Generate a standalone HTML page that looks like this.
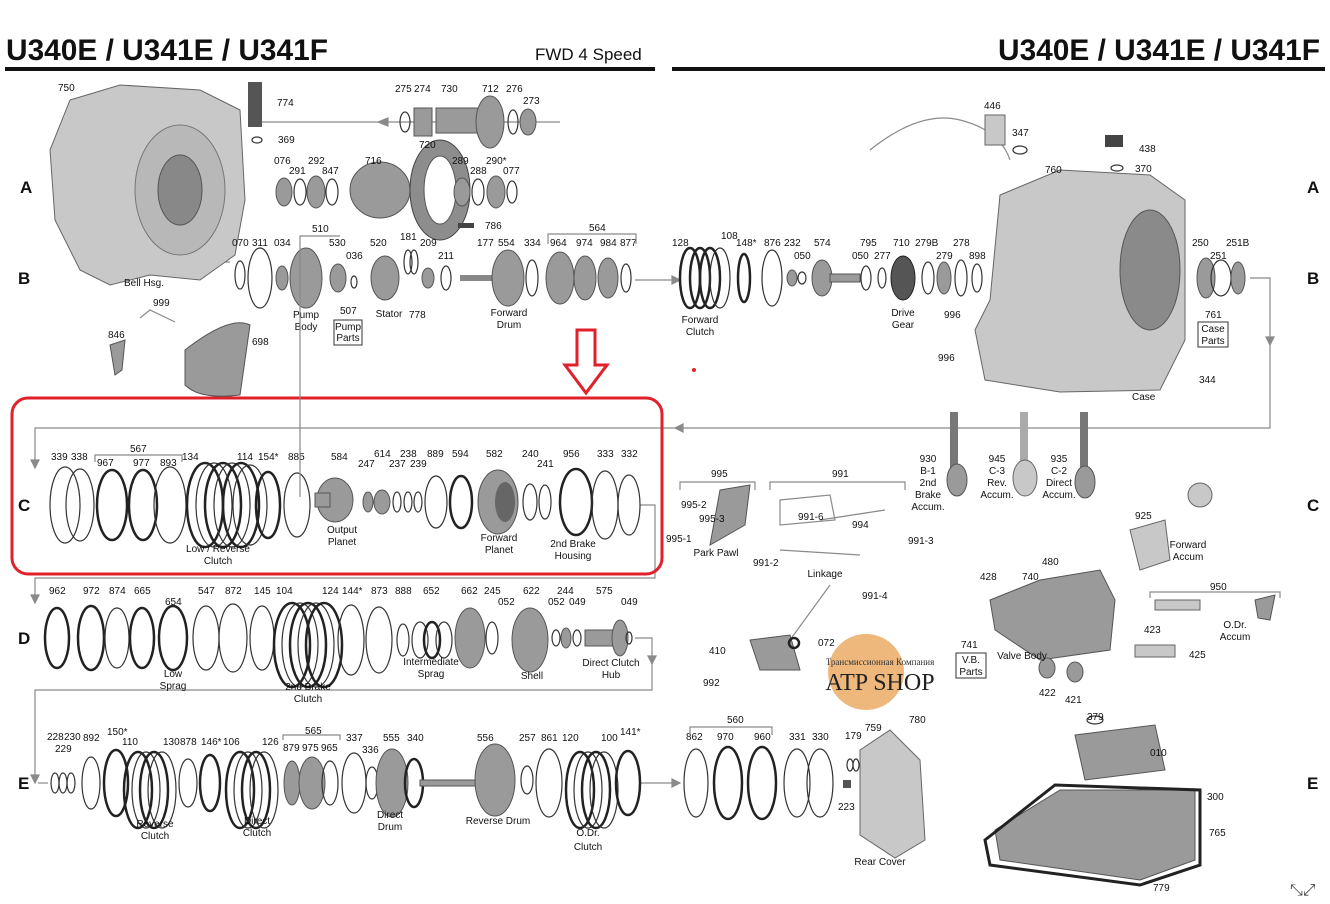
<!DOCTYPE html>
<html><head><meta charset="utf-8">
<style>
html,body{margin:0;padding:0;background:#fff;}
svg{display:block;font-family:"Liberation Sans",Arial,sans-serif;}
.t{font-size:10px;fill:#111;}
.l{font-size:10px;fill:#111;text-anchor:middle;}
.r{fill:none;stroke:#333;stroke-width:1.2;}
.k{fill:none;stroke:#222;stroke-width:2.5;}
.g{fill:#9a9a9a;stroke:#555;stroke-width:1;}
.lg{fill:#c8c8c8;stroke:#666;stroke-width:1;}
.f{fill:none;stroke:#8a8a8a;stroke-width:1.2;}
.row{font-size:17px;font-weight:bold;fill:#111;}
</style></head><body>
<svg width="1330" height="904" viewBox="0 0 1330 904" xmlns="http://www.w3.org/2000/svg">
<rect width="1330" height="904" fill="#fff"/>
<text x="6" y="60" font-size="30" font-weight="bold" fill="#111" textLength="322" lengthAdjust="spacingAndGlyphs">U340E / U341E / U341F</text>
<text x="535" y="60" font-size="17" fill="#111">FWD 4 Speed</text>
<rect x="5" y="67" width="650" height="4" fill="#111"/>
<text x="998" y="60" font-size="30" font-weight="bold" fill="#111" textLength="322" lengthAdjust="spacingAndGlyphs">U340E / U341E / U341F</text>
<rect x="672" y="67" width="653" height="4" fill="#111"/>
<text class="row" x="20" y="193">A</text><text class="row" x="18" y="284">B</text><text class="row" x="18" y="511">C</text><text class="row" x="18" y="644">D</text><text class="row" x="18" y="789">E</text>
<text class="row" x="1307" y="193">A</text><text class="row" x="1307" y="284">B</text><text class="row" x="1307" y="511">C</text><text class="row" x="1307" y="789">E</text>

<g class="f">
<polyline points="250,122 560,122"/><polygon points="378,122 388,118 388,126" fill="#8a8a8a"/>
<polyline points="183,250 183,262 230,262"/>
<polyline points="635,280 680,280"/><polygon points="680,280 672,276 672,284" fill="#8a8a8a"/>
<polyline points="1250,278 1270,278 1270,428 35,428 35,465"/><polygon points="35,468 31,460 39,460" fill="#8a8a8a"/>
<polygon points="1270,345 1266,337 1274,337" fill="#8a8a8a"/><polygon points="675,428 683,424 683,432" fill="#8a8a8a"/>
<polyline points="640,505 655,505 655,578 35,578 35,600"/><polygon points="35,603 31,595 39,595" fill="#8a8a8a"/>
<polyline points="635,638 652,638 652,690 35,690 35,780"/><polygon points="652,664 648,656 656,656" fill="#8a8a8a"/><polygon points="35,783 31,775 39,775" fill="#8a8a8a"/>
<polyline points="640,783 680,783"/><polygon points="680,783 672,779 672,787" fill="#8a8a8a"/>
<polyline points="38,783 48,783"/>
</g>

<rect x="12" y="398" width="650" height="176" rx="16" fill="none" stroke="#e0202a" stroke-width="3"/>
<polygon points="577,330 595,330 595,365 607,365 586,393 565,365 577,365" fill="none" stroke="#e0202a" stroke-width="3"/>
<circle cx="694" cy="370" r="2" fill="#e0202a"/>

<path class="lg" d="M70,100 L120,85 L200,90 L240,110 L245,200 L235,255 L200,280 L150,275 L110,285 L80,270 L55,220 L50,150 Z"/>
<ellipse cx="180" cy="190" rx="45" ry="65" fill="#b8b8b8" stroke="#777"/>
<ellipse cx="180" cy="190" rx="22" ry="35" fill="#888" stroke="#555"/>
<rect x="248" y="82" width="14" height="45" fill="#555"/>
<ellipse class="r" cx="257" cy="140" rx="5" ry="3"/>
<ellipse class="r" cx="405" cy="122" rx="5" ry="10"/><rect x="414" y="108" width="18" height="28" class="g"/>
<rect x="436" y="108" width="42" height="25" class="g"/><ellipse class="g" cx="490" cy="122" rx="14" ry="26"/>
<ellipse class="r" cx="513" cy="122" rx="5" ry="12"/><ellipse class="g" cx="528" cy="122" rx="8" ry="13"/>
<ellipse class="g" cx="284" cy="192" rx="8" ry="14"/><ellipse class="r" cx="300" cy="192" rx="6" ry="13"/><ellipse class="g" cx="316" cy="192" rx="9" ry="16"/><ellipse class="r" cx="332" cy="192" rx="6" ry="13"/>
<ellipse class="g" cx="380" cy="190" rx="30" ry="28"/><ellipse cx="440" cy="190" rx="30" ry="50" fill="#8d8d8d" stroke="#444"/><ellipse cx="440" cy="190" rx="16" ry="34" fill="#fff" stroke="#555"/>
<ellipse class="g" cx="462" cy="192" rx="8" ry="14"/><ellipse class="r" cx="478" cy="192" rx="6" ry="13"/><ellipse class="g" cx="496" cy="192" rx="9" ry="16"/><ellipse class="r" cx="512" cy="192" rx="5" ry="11"/>
<rect x="458" y="223" width="16" height="5" fill="#444"/>
<ellipse class="r" cx="240" cy="275" rx="5" ry="14"/><ellipse class="r" cx="260" cy="278" rx="12" ry="30"/><ellipse class="g" cx="282" cy="278" rx="6" ry="12"/>
<ellipse class="g" cx="306" cy="278" rx="16" ry="30"/><ellipse class="g" cx="338" cy="278" rx="8" ry="14"/><ellipse class="r" cx="354" cy="282" rx="3" ry="6"/>
<ellipse class="g" cx="385" cy="278" rx="14" ry="22"/><ellipse class="r" cx="408" cy="262" rx="4" ry="12"/><ellipse class="r" cx="414" cy="262" rx="4" ry="12"/>
<ellipse class="g" cx="428" cy="278" rx="6" ry="10"/><ellipse class="r" cx="446" cy="278" rx="5" ry="12"/>
<rect x="460" y="275" width="40" height="6" fill="#888"/><ellipse class="g" cx="508" cy="278" rx="16" ry="28"/>
<ellipse class="r" cx="532" cy="278" rx="6" ry="18"/><ellipse class="g" cx="560" cy="278" rx="14" ry="26"/><ellipse class="g" cx="585" cy="278" rx="11" ry="22"/><ellipse class="g" cx="608" cy="278" rx="10" ry="20"/><ellipse class="r" cx="626" cy="278" rx="5" ry="14"/>
<path class="g" d="M185,350 Q230,315 250,325 L240,395 Q200,400 185,385 Z"/>
<path class="g" d="M110,345 L125,340 L122,370 L115,375 Z"/>
<path class="f" d="M140,318 L150,310 L175,322"/>
<ellipse class="k" cx="690" cy="278" rx="10" ry="30"/><ellipse class="k" cx="700" cy="278" rx="10" ry="30"/><ellipse class="k" cx="710" cy="278" rx="10" ry="30"/><ellipse class="r" cx="720" cy="278" rx="10" ry="30"/>
<ellipse class="k" cx="744" cy="278" rx="6" ry="24"/><ellipse class="r" cx="772" cy="278" rx="10" ry="28"/><ellipse class="g" cx="792" cy="278" rx="5" ry="8"/><ellipse class="r" cx="802" cy="278" rx="4" ry="6"/>
<ellipse class="g" cx="822" cy="278" rx="10" ry="18"/><rect x="830" y="274" width="30" height="8" class="g"/>
<ellipse class="r" cx="866" cy="278" rx="5" ry="12"/><ellipse class="r" cx="882" cy="278" rx="4" ry="10"/><ellipse cx="903" cy="278" rx="12" ry="22" fill="#555" stroke="#222"/>
<ellipse class="r" cx="928" cy="278" rx="6" ry="16"/><ellipse class="g" cx="944" cy="278" rx="7" ry="16"/><ellipse class="r" cx="961" cy="278" rx="6" ry="18"/><ellipse class="r" cx="977" cy="278" rx="5" ry="14"/>
<path class="lg" d="M1000,195 L1060,170 L1150,175 L1185,200 L1185,340 L1160,390 L1060,392 L985,380 L975,330 L990,300 Z"/>
<ellipse cx="1150" cy="270" rx="30" ry="60" fill="#8a8a8a" stroke="#555"/>
<path class="f" d="M870,150 Q920,110 960,120 Q1000,130 1010,160" stroke="#333"/>
<rect x="985" y="115" width="20" height="30" class="lg"/>
<ellipse class="r" cx="1020" cy="150" rx="7" ry="4"/>
<rect x="1105" y="135" width="18" height="12" fill="#444"/><ellipse class="r" cx="1117" cy="168" rx="6" ry="3"/>
<ellipse class="g" cx="1206" cy="278" rx="9" ry="20"/><ellipse class="r" cx="1221" cy="278" rx="10" ry="18"/><ellipse class="g" cx="1238" cy="278" rx="7" ry="16"/>

<ellipse class="r" cx="65" cy="505" rx="15" ry="38"/><ellipse class="r" cx="80" cy="505" rx="14" ry="36"/>
<ellipse class="k" cx="112" cy="505" rx="15" ry="35" stroke="#666" stroke-width="5"/><ellipse class="k" cx="143" cy="505" rx="14" ry="35" stroke="#777" stroke-width="4"/>
<ellipse class="r" cx="170" cy="505" rx="16" ry="38"/>
<ellipse class="k" cx="205" cy="505" rx="18" ry="42"/><ellipse class="r" cx="214" cy="505" rx="18" ry="42"/><ellipse class="k" cx="223" cy="505" rx="18" ry="42"/><ellipse class="r" cx="232" cy="505" rx="18" ry="42"/><ellipse class="k" cx="241" cy="505" rx="18" ry="42"/><ellipse class="r" cx="250" cy="505" rx="17" ry="40"/>
<ellipse class="k" cx="268" cy="505" rx="12" ry="33" stroke-width="2"/><ellipse class="r" cx="297" cy="505" rx="13" ry="32"/>
<ellipse class="g" cx="335" cy="500" rx="18" ry="22"/><rect x="315" y="493" width="15" height="14" class="g"/>
<ellipse class="g" cx="368" cy="502" rx="5" ry="10"/><ellipse class="g" cx="382" cy="502" rx="8" ry="12"/><ellipse class="r" cx="397" cy="502" rx="4" ry="10"/><ellipse class="r" cx="408" cy="502" rx="4" ry="10"/><ellipse class="r" cx="418" cy="502" rx="4" ry="10"/>
<ellipse class="r" cx="436" cy="502" rx="11" ry="26"/><ellipse class="k" cx="461" cy="502" rx="11" ry="26" stroke="#444" stroke-width="4"/>
<ellipse class="g" cx="498" cy="502" rx="20" ry="32"/><ellipse cx="505" cy="502" rx="10" ry="20" fill="#666"/>
<ellipse class="r" cx="530" cy="502" rx="7" ry="18"/><ellipse class="r" cx="545" cy="502" rx="6" ry="17"/>
<ellipse class="k" cx="576" cy="502" rx="16" ry="33" stroke="#555" stroke-width="5"/>
<ellipse class="r" cx="605" cy="505" rx="13" ry="34"/><ellipse class="r" cx="629" cy="505" rx="11" ry="30"/>

<ellipse class="k" cx="57" cy="638" rx="12" ry="30" stroke="#555" stroke-width="5"/><ellipse class="k" cx="91" cy="638" rx="13" ry="32" stroke="#777" stroke-width="4"/><ellipse class="r" cx="117" cy="638" rx="12" ry="30"/><ellipse class="k" cx="142" cy="638" rx="12" ry="30" stroke="#444" stroke-width="4"/>
<ellipse class="k" cx="173" cy="638" rx="14" ry="32" stroke="#666" stroke-width="4"/><ellipse class="r" cx="206" cy="638" rx="13" ry="32"/><ellipse class="r" cx="233" cy="638" rx="14" ry="34"/><ellipse class="r" cx="262" cy="638" rx="12" ry="32"/>
<ellipse class="k" cx="292" cy="645" rx="18" ry="42"/><ellipse class="r" cx="300" cy="645" rx="18" ry="42"/><ellipse class="k" cx="308" cy="645" rx="18" ry="42"/><ellipse class="r" cx="316" cy="645" rx="18" ry="42"/><ellipse class="k" cx="324" cy="645" rx="18" ry="42"/>
<ellipse class="r" cx="351" cy="640" rx="13" ry="35"/><ellipse class="r" cx="379" cy="640" rx="13" ry="33"/><ellipse class="r" cx="403" cy="640" rx="6" ry="16"/>
<ellipse class="r" cx="420" cy="640" rx="8" ry="18"/><ellipse class="k" cx="432" cy="640" rx="8" ry="18" stroke-width="2"/><ellipse class="r" cx="444" cy="640" rx="8" ry="18"/>
<ellipse class="g" cx="470" cy="638" rx="15" ry="30"/><ellipse class="r" cx="492" cy="638" rx="6" ry="16"/><ellipse class="g" cx="530" cy="640" rx="18" ry="32"/>
<ellipse class="r" cx="556" cy="638" rx="4" ry="8"/><ellipse class="g" cx="566" cy="638" rx="5" ry="10"/><ellipse class="r" cx="577" cy="638" rx="4" ry="8"/>
<rect x="585" y="630" width="35" height="16" class="g"/><ellipse class="g" cx="620" cy="638" rx="8" ry="18"/><ellipse class="r" cx="629" cy="638" rx="3" ry="6"/>

<ellipse class="r" cx="55" cy="783" rx="4" ry="10"/><ellipse class="r" cx="63" cy="783" rx="4" ry="10"/><ellipse class="r" cx="71" cy="783" rx="4" ry="10"/>
<ellipse class="r" cx="91" cy="783" rx="9" ry="26"/><ellipse class="k" cx="116" cy="783" rx="12" ry="33" stroke="#555" stroke-width="3"/>
<ellipse class="k" cx="138" cy="790" rx="14" ry="38"/><ellipse class="r" cx="146" cy="790" rx="14" ry="38"/><ellipse class="k" cx="154" cy="790" rx="14" ry="38"/><ellipse class="r" cx="162" cy="790" rx="14" ry="38"/>
<ellipse class="r" cx="188" cy="783" rx="9" ry="24"/><ellipse class="k" cx="210" cy="783" rx="10" ry="28" stroke="#555" stroke-width="3"/>
<ellipse class="k" cx="240" cy="790" rx="14" ry="38"/><ellipse class="r" cx="248" cy="790" rx="14" ry="38"/><ellipse class="k" cx="256" cy="790" rx="14" ry="38"/><ellipse class="r" cx="264" cy="790" rx="14" ry="38"/>
<ellipse class="g" cx="292" cy="783" rx="8" ry="22"/><ellipse class="g" cx="312" cy="783" rx="13" ry="26"/><ellipse class="r" cx="330" cy="783" rx="8" ry="22"/>
<ellipse class="r" cx="354" cy="783" rx="12" ry="30"/><ellipse class="r" cx="372" cy="783" rx="6" ry="16"/><ellipse class="g" cx="392" cy="783" rx="16" ry="34"/><ellipse class="k" cx="414" cy="783" rx="9" ry="24" stroke="#444"/>
<rect x="420" y="780" width="60" height="6" class="g"/><ellipse class="g" cx="495" cy="780" rx="20" ry="36"/>
<ellipse class="r" cx="527" cy="780" rx="6" ry="14"/><ellipse class="r" cx="549" cy="783" rx="13" ry="34"/>
<ellipse class="k" cx="580" cy="790" rx="14" ry="38"/><ellipse class="r" cx="588" cy="790" rx="14" ry="38"/><ellipse class="k" cx="596" cy="790" rx="14" ry="38"/><ellipse class="r" cx="604" cy="790" rx="14" ry="38"/>
<ellipse class="k" cx="628" cy="783" rx="12" ry="32" stroke="#555" stroke-width="3"/>
<ellipse class="r" cx="696" cy="783" rx="12" ry="34"/><ellipse class="k" cx="728" cy="783" rx="14" ry="36" stroke="#444" stroke-width="3"/><ellipse class="k" cx="762" cy="783" rx="14" ry="36" stroke="#444" stroke-width="3"/>
<ellipse class="r" cx="797" cy="783" rx="13" ry="34"/><ellipse class="r" cx="820" cy="783" rx="13" ry="34"/>
<ellipse class="r" cx="850" cy="765" rx="3" ry="6"/><ellipse class="r" cx="856" cy="765" rx="3" ry="6"/><rect x="843" y="780" width="8" height="8" fill="#555"/>
<path class="lg" d="M860,750 L890,730 L920,760 L925,840 L895,858 L860,835 Z"/>

<path class="g" d="M720,490 L750,485 L745,525 L710,545 Z"/>
<path class="f" d="M780,500 L830,495 L835,520 L780,525 Z" stroke="#555"/>
<path class="f" d="M820,520 L885,510" stroke="#444" stroke-width="3"/>
<path class="f" d="M780,550 L860,555" stroke="#555" stroke-width="2"/>
<path class="f" d="M830,585 L790,640" stroke="#444" stroke-width="4"/>
<path class="g" d="M750,640 L790,635 L800,670 L760,670 Z"/>
<ellipse class="k" cx="794" cy="643" rx="5" ry="5" stroke-width="2"/>
<rect x="950" y="412" width="8" height="60" fill="#777"/><ellipse class="g" cx="957" cy="480" rx="10" ry="16"/>
<rect x="1020" y="412" width="8" height="50" fill="#aaa"/><ellipse class="lg" cx="1025" cy="478" rx="12" ry="18"/>
<rect x="1080" y="412" width="8" height="60" fill="#777"/><ellipse class="g" cx="1085" cy="482" rx="10" ry="16"/>
<path class="g" d="M990,600 L1040,580 L1100,570 L1115,600 L1110,650 L1040,660 L995,630 Z"/>
<path class="lg" d="M1130,530 L1165,520 L1170,560 L1140,570 Z"/>
<circle class="lg" cx="1200" cy="495" r="12"/>
<rect x="1155" y="600" width="45" height="10" class="lg"/><path class="g" d="M1255,600 L1275,595 L1270,620 L1258,618 Z"/>
<rect x="1135" y="645" width="40" height="12" class="lg"/>
<ellipse class="g" cx="1047" cy="668" rx="8" ry="10"/><ellipse class="g" cx="1075" cy="672" rx="8" ry="10"/>
<ellipse class="r" cx="1095" cy="720" rx="8" ry="4"/>
<path class="g" d="M1075,735 L1155,725 L1165,770 L1085,780 Z" fill="#666"/>
<path class="g" d="M995,830 L1060,790 L1195,790 L1195,860 L1140,880 L1000,860 Z" fill="#555"/>
<path d="M985,840 L1055,785 L1200,790 L1200,865 L1140,885 L990,865 Z" fill="none" stroke="#222" stroke-width="3"/>

<circle cx="866" cy="672" r="38" fill="#e8a050" opacity="0.75"/>
<text x="880" y="665" font-size="9" font-family="Liberation Serif,serif" fill="#333" text-anchor="middle">Трансмиссионная Компания</text>
<text x="880" y="690" font-size="24" font-family="Liberation Serif,serif" fill="#222" text-anchor="middle">ATP SHOP</text>

<g class="t">
<text x="58" y="91">750</text><text x="277" y="106">774</text><text x="278" y="143">369</text>
<text x="395" y="92">275</text><text x="414" y="92">274</text><text x="441" y="92">730</text><text x="482" y="92">712</text><text x="506" y="92">276</text><text x="523" y="104">273</text>
<text x="274" y="164">076</text><text x="289" y="174">291</text><text x="308" y="164">292</text><text x="322" y="174">847</text><text x="365" y="164">716</text><text x="419" y="148">720</text><text x="452" y="164">289</text><text x="470" y="174">288</text><text x="486" y="164">290*</text><text x="503" y="174">077</text><text x="485" y="229">786</text>
<text x="232" y="246">070</text><text x="252" y="246">311</text><text x="274" y="246">034</text><text x="312" y="232">510</text><text x="329" y="246">530</text><text x="346" y="259">036</text><text x="370" y="246">520</text><text x="400" y="240">181</text><text x="420" y="246">209</text><text x="438" y="259">211</text><text x="477" y="246">177</text><text x="498" y="246">554</text><text x="524" y="246">334</text><text x="589" y="231">564</text><text x="550" y="246">964</text><text x="576" y="246">974</text><text x="600" y="246">984</text><text x="620" y="246">877</text>
<text x="124" y="286">Bell Hsg.</text><text x="153" y="306">999</text><text x="108" y="338">846</text><text x="252" y="345">698</text>
<text x="340" y="314">507</text><text x="409" y="318">778</text>
<text x="672" y="246">128</text><text x="721" y="239">108</text><text x="736" y="246">148*</text><text x="764" y="246">876</text><text x="784" y="246">232</text><text x="794" y="259">050</text><text x="814" y="246">574</text><text x="860" y="246">795</text><text x="852" y="259">050</text><text x="874" y="259">277</text><text x="893" y="246">710</text><text x="915" y="246">279B</text><text x="936" y="259">279</text><text x="953" y="246">278</text><text x="969" y="259">898</text>
<text x="944" y="318">996</text><text x="938" y="361">996</text><text x="984" y="109">446</text><text x="1012" y="136">347</text><text x="1139" y="152">438</text><text x="1135" y="172">370</text><text x="1045" y="173">760</text><text x="1192" y="246">250</text><text x="1210" y="259">251</text><text x="1226" y="246">251B</text><text x="1205" y="318">761</text><text x="1199" y="383">344</text><text x="1132" y="400">Case</text>
<text x="51" y="460">339</text><text x="71" y="460">338</text><text x="130" y="452">567</text><text x="97" y="466">967</text><text x="133" y="466">977</text><text x="160" y="466">893</text><text x="182" y="460">134</text><text x="237" y="460">114</text><text x="258" y="460">154*</text><text x="288" y="460">885</text><text x="331" y="460">584</text><text x="374" y="457">614</text><text x="358" y="467">247</text><text x="389" y="467">237</text><text x="400" y="457">238</text><text x="410" y="467">239</text><text x="427" y="457">889</text><text x="452" y="457">594</text><text x="486" y="457">582</text><text x="522" y="457">240</text><text x="537" y="467">241</text><text x="563" y="457">956</text><text x="597" y="457">333</text><text x="621" y="457">332</text>
<text x="711" y="477">995</text><text x="832" y="477">991</text><text x="681" y="508">995-2</text><text x="699" y="522">995-3</text><text x="798" y="520">991-6</text><text x="852" y="528">994</text><text x="666" y="542">995-1</text><text x="908" y="544">991-3</text><text x="753" y="566">991-2</text><text x="862" y="599">991-4</text><text x="818" y="646">072</text><text x="709" y="654">410</text><text x="703" y="686">992</text>
<text x="1135" y="519">925</text><text x="1042" y="565">480</text><text x="980" y="580">428</text><text x="1022" y="580">740</text><text x="1210" y="590">950</text><text x="1144" y="633">423</text><text x="1189" y="658">425</text><text x="961" y="648">741</text><text x="1039" y="696">422</text><text x="1065" y="703">421</text><text x="1087" y="720">379</text><text x="1150" y="756">010</text><text x="1207" y="800">300</text><text x="1209" y="836">765</text><text x="1153" y="891">779</text>
<text x="49" y="594">962</text><text x="83" y="594">972</text><text x="109" y="594">874</text><text x="134" y="594">665</text><text x="165" y="605">654</text><text x="198" y="594">547</text><text x="225" y="594">872</text><text x="254" y="594">145</text><text x="276" y="594">104</text><text x="322" y="594">124</text><text x="342" y="594">144*</text><text x="371" y="594">873</text><text x="395" y="594">888</text><text x="423" y="594">652</text><text x="461" y="594">662</text><text x="484" y="594">245</text><text x="498" y="605">052</text><text x="523" y="594">622</text><text x="557" y="594">244</text><text x="548" y="605">052</text><text x="569" y="605">049</text><text x="596" y="594">575</text><text x="621" y="605">049</text>
<text x="47" y="740">228</text><text x="64" y="740">230</text><text x="55" y="752">229</text><text x="83" y="741">892</text><text x="107" y="735">150*</text><text x="122" y="745">110</text><text x="163" y="745">130</text><text x="180" y="745">878</text><text x="201" y="745">146*</text><text x="223" y="745">106</text><text x="262" y="745">126</text><text x="305" y="734">565</text><text x="346" y="741">337</text><text x="283" y="751">879</text><text x="302" y="751">975</text><text x="321" y="751">965</text><text x="362" y="753">336</text><text x="383" y="741">555</text><text x="407" y="741">340</text><text x="477" y="741">556</text><text x="519" y="741">257</text><text x="541" y="741">861</text><text x="562" y="741">120</text><text x="601" y="741">100</text><text x="620" y="735">141*</text>
<text x="727" y="723">560</text><text x="686" y="740">862</text><text x="717" y="740">970</text><text x="754" y="740">960</text><text x="789" y="740">331</text><text x="812" y="740">330</text><text x="845" y="739">179</text><text x="838" y="810">223</text><text x="865" y="731">759</text><text x="909" y="723">780</text>
</g>
<g class="l">
<text x="306" y="318">Pump</text><text x="306" y="330">Body</text>
<text x="348" y="330">Pump</text><text x="348" y="341">Parts</text>
<text x="389" y="317">Stator</text>
<text x="509" y="316">Forward</text><text x="509" y="328">Drum</text>
<text x="700" y="323">Forward</text><text x="700" y="335">Clutch</text>
<text x="903" y="316">Drive</text><text x="903" y="328">Gear</text>
<text x="1213" y="332">Case</text><text x="1213" y="344">Parts</text>
<text x="218" y="552">Low / Reverse</text><text x="218" y="564">Clutch</text>
<text x="342" y="533">Output</text><text x="342" y="545">Planet</text>
<text x="499" y="541">Forward</text><text x="499" y="553">Planet</text>
<text x="573" y="547">2nd Brake</text><text x="573" y="559">Housing</text>
<text x="716" y="556">Park Pawl</text><text x="825" y="577">Linkage</text>
<text x="928" y="462">930</text><text x="928" y="474">B-1</text><text x="928" y="486">2nd</text><text x="928" y="498">Brake</text><text x="928" y="510">Accum.</text>
<text x="997" y="462">945</text><text x="997" y="474">C-3</text><text x="997" y="486">Rev.</text><text x="997" y="498">Accum.</text>
<text x="1059" y="462">935</text><text x="1059" y="474">C-2</text><text x="1059" y="486">Direct</text><text x="1059" y="498">Accum.</text>
<text x="1188" y="548">Forward</text><text x="1188" y="560">Accum</text>
<text x="1235" y="628">O.Dr.</text><text x="1235" y="640">Accum</text>
<text x="1022" y="659">Valve Body</text>
<text x="971" y="663">V.B.</text><text x="971" y="675">Parts</text>
<text x="173" y="677">Low</text><text x="173" y="689">Sprag</text>
<text x="308" y="690">2nd Brake</text><text x="308" y="702">Clutch</text>
<text x="431" y="665">Intermediate</text><text x="431" y="677">Sprag</text>
<text x="532" y="679">Shell</text>
<text x="611" y="666">Direct Clutch</text><text x="611" y="678">Hub</text>
<text x="155" y="827">Reverse</text><text x="155" y="839">Clutch</text>
<text x="257" y="824">Direct</text><text x="257" y="836">Clutch</text>
<text x="390" y="818">Direct</text><text x="390" y="830">Drum</text>
<text x="498" y="824">Reverse Drum</text>
<text x="588" y="836">O.Dr.</text><text x="588" y="850">Clutch</text>
<text x="880" y="865">Rear Cover</text>
</g>
<rect x="334" y="320" width="28" height="25" fill="none" stroke="#333"/>
<rect x="1198" y="322" width="30" height="25" fill="none" stroke="#333"/>
<rect x="956" y="653" width="30" height="25" fill="none" stroke="#333"/>
<g class="f" stroke="#333">
<polyline points="95,462 95,455 182,455 182,462"/><polyline points="300,497 300,236 340,236"/>
<polyline points="548,244 548,234 636,234 636,244"/><polyline points="680,490 680,482 755,482 755,490"/><polyline points="770,490 770,482 905,482 905,490"/>
<polyline points="283,740 283,735 340,735 340,740"/><polyline points="690,735 690,727 772,727 772,735"/><polyline points="1150,598 1150,592 1280,592 1280,598"/>
</g>
<text x="1290" y="895" font-size="16" fill="#444">⤡⤢</text>
</svg>
</body></html>
